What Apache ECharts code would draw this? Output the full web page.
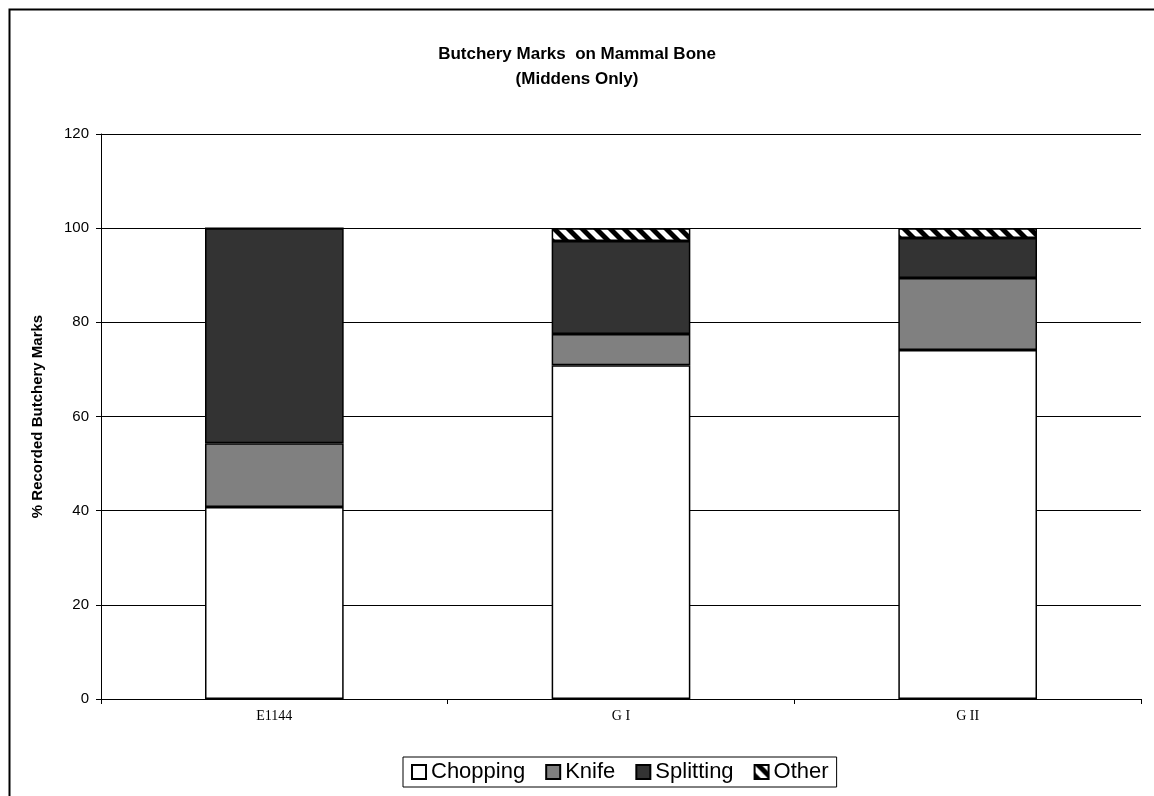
<!DOCTYPE html>
<html>
<head>
<meta charset="utf-8">
<script src="https://cdn.jsdelivr.net/npm/echarts@6/dist/echarts.min.js"></script>
<style>html,body{margin:0;padding:0;background:#fff}#c{width:1154px;height:796px}</style>
</head>
<body>
<div id="c"></div>
<script>
const categories = ['E1144', 'G I', 'G II'];
const chopping = [40.8, 70.9, 74.1];
const knife = [13.5, 6.6, 15.3];
const splitting = [45.7, 19.8, 8.5];
const other = [0, 2.7, 2.1];
const yTicks = [0, 20, 40, 60, 80, 100, 120];

function hatch() {
  const s = 14;
  const c = document.createElement('canvas');
  c.width = s; c.height = s;
  const g = c.getContext('2d');
  g.fillStyle = '#fff'; g.fillRect(0, 0, s, s);
  g.fillStyle = '#000';
  const w = 7;
  for (const off of [-s, 0, s]) {
    g.beginPath();
    g.moveTo(off, 0);
    g.lineTo(off + w, 0);
    g.lineTo(off + w + s, s);
    g.lineTo(off + s, s);
    g.closePath();
    g.fill();
  }
  return c;
}

const font = 'Arial, "Liberation Sans", sans-serif';
const chart = echarts.init(document.getElementById('c'), null, {renderer: 'canvas'});
const border = {borderColor: '#000', borderWidth: 1.5};
chart.setOption({
  animation: false,
  backgroundColor: '#fff',
  title: {
    text: 'Butchery Marks  on Mammal Bone\n(Middens Only)',
    left: 'center', top: 37,
    textStyle: {fontFamily: font, fontWeight: 'bold', fontSize: 17, lineHeight: 25, color: '#000'}
  },
  graphic: [{
    type: 'rect', left: 7, top: 7, silent: true,
    shape: {x: 0, y: 0, width: 1200, height: 1000},
    style: {fill: 'none', stroke: '#000', lineWidth: 2}
  }],
  legend: {
    left: 403, top: 757,
    padding: [4, 8],
    borderColor: '#000', borderWidth: 1,
    itemWidth: 14, itemHeight: 14, itemGap: 20,
    icon: 'rect',
    textStyle: {fontFamily: font, fontSize: 22, color: '#000'},
    data: ['Chopping', 'Knife', 'Splitting', 'Other']
  },
  grid: {left: 101, right: 13, top: 134, bottom: 97, containLabel: false},
  xAxis: {
    type: 'category', data: categories, boundaryGap: true,
    axisLine: {lineStyle: {color: '#000', width: 1}},
    axisTick: {show: true, length: 5, lineStyle: {color: '#000'}},
    axisLabel: {fontFamily: '"Liberation Serif", "Times New Roman", serif', fontSize: 14, color: '#000', margin: 10}
  },
  yAxis: {
    type: 'value', min: yTicks[0], max: yTicks[yTicks.length - 1], interval: 20,
    name: '% Recorded Butchery Marks', nameLocation: 'middle', nameGap: 56,
    nameTextStyle: {fontFamily: font, fontWeight: 'bold', fontSize: 15, color: '#000'},
    axisLine: {show: true, lineStyle: {color: '#000', width: 1}},
    axisTick: {show: true, length: 5, lineStyle: {color: '#000'}},
    axisLabel: {fontFamily: font, fontSize: 15, color: '#000', margin: 12},
    splitLine: {show: true, lineStyle: {color: '#000', width: 1}}
  },
  series: [
    {name: 'Chopping', type: 'bar', stack: 't', barWidth: '40%', data: chopping, itemStyle: Object.assign({color: '#ffffff'}, border)},
    {name: 'Knife', type: 'bar', stack: 't', data: knife, itemStyle: Object.assign({color: '#808080'}, border)},
    {name: 'Splitting', type: 'bar', stack: 't', data: splitting, itemStyle: Object.assign({color: '#333333'}, border)},
    {name: 'Other', type: 'bar', stack: 't', data: other, itemStyle: Object.assign({color: {image: hatch(), repeat: 'repeat'}}, border)}
  ]
});
</script>
</body>
</html>
